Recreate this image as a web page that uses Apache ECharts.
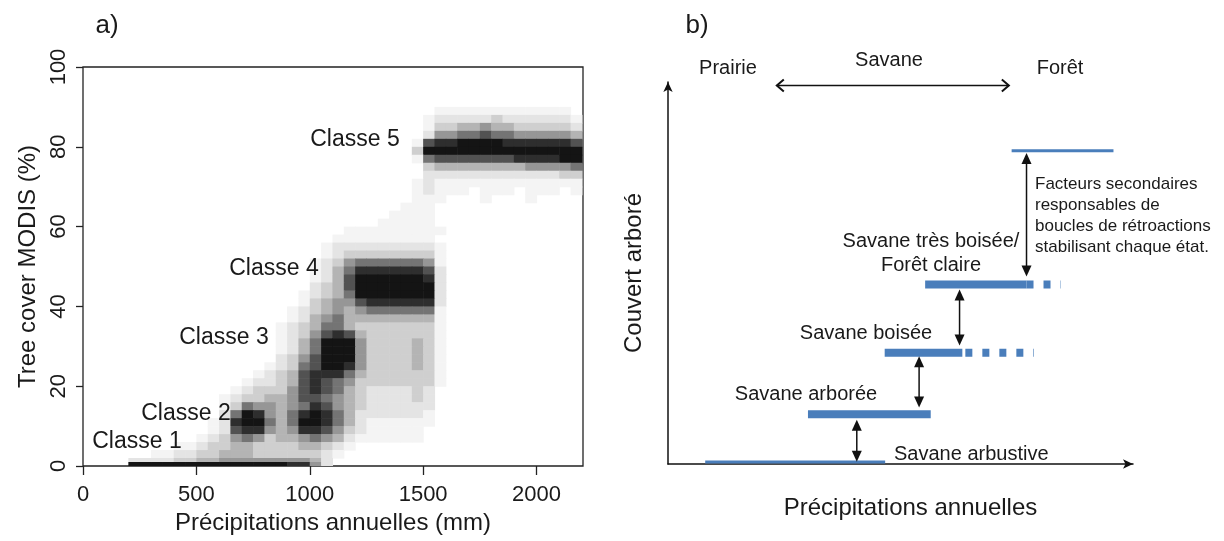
<!DOCTYPE html>
<html><head><meta charset="utf-8">
<script src="https://cdn.jsdelivr.net/npm/echarts@6/dist/echarts.min.js"></script>
<style>html,body{margin:0;padding:0;background:#fff}#c{width:1224px;height:541px}</style>
</head><body><div id="c"></div>
<script>
// ---------- Panel a : density of MODIS tree cover vs annual precipitation ----------
const xTickValues = [0, 500, 1000, 1500, 2000];
const precipBinEdges = [0,50,100,150,200,250,300,350,400,450,500,550,600,650,700,750,800,850,900,950,1000,1050,1100,1150,1200,1250,1300,1350,1400,1450,1500,1550,1600,1650,1700,1750,1800,1850,1900,1950,2000,2050,2100,2150,2200];
// tree cover bin edges, from top (100 %) down to 0 %
const coverBinEdges = [100,98,96,94,92,90,88,86,84,82,80,78,76,74,72,70,68,66,64,62,60,58,56,54,52,50,48,46,44,42,40,38,36,34,32,30,28,26,24,22,20,18,16,14,12,10,8,6,4,2,1,0];
// darkness 0 (white) .. 9 (black), one row per cover bin (top to bottom), one char per precipitation bin
const densityRows = [
"0000000000 0000000000 0000000000 0000000000 0000",
"0000000000 0000000000 0000000000 0000000000 0000",
"0000000000 0000000000 0000000000 0000000000 0000",
"0000000000 0000000000 0000000000 0000000000 0000",
"0000000000 0000000000 0000000000 0000000000 0000",
"0000000000 0000000000 0000000000 0111111111 1110",
"0000000000 0000000000 0000000000 1222223222 2221",
"0000000000 0000000000 0000000000 1334454433 3332",
"0000000000 0000000000 0000000000 2556676655 5554",
"0000000000 0000000000 0000000001 7889999888 8887",
"0000000000 0000000000 0000000003 9999999999 9999",
"0000000000 0000000000 0000000001 6777777788 8899",
"0000000000 0000000000 0000000000 3444444445 5556",
"0000000000 0000000000 0000000000 2222222222 2233",
"0000000000 0000000000 0000000001 2111111111 1111",
"0000000000 0000000000 0000000001 2111011101 1101",
"0000000000 0000000000 0000000001 1100010001 0000",
"0000000000 0000000000 0000000011 1000000000 0000",
"0000000000 0000000000 0000000111 1000000000 0000",
"0000000000 0000000000 0000001111 1000000000 0000",
"0000000000 0000000000 0001111111 1100000000 0000",
"0000000000 0000000000 0011111111 1000000000 0000",
"0000000000 0000000000 0122222222 2100000000 0000",
"0000000000 0000000000 0123333333 3100000000 0000",
"0000000000 0000000000 1235666666 5100000000 0000",
"0000000000 0000000000 1246888888 7200000000 0000",
"0000000000 0000000000 1247999999 8200000000 0000",
"0000000000 0000000000 2347999999 9200000000 0000",
"0000000000 0000000001 2346999999 9200000000 0000",
"0000000000 0000000001 3455788888 8200000000 0000",
"0000000000 0000000012 3454566666 6100000000 0000",
"0000000000 0000000012 4564444444 4100000000 0000",
"0000000000 0000000123 4664333333 3100000000 0000",
"0000000000 0000000123 5787433333 3100000000 0000",
"0000000000 0000000124 6999533334 3100000000 0000",
"0000000000 0000000124 6999533334 3100000000 0000",
"0000000000 0000000235 7999533334 3100000000 0000",
"0000000000 0000001236 7998533334 3100000000 0000",
"0000000000 0000012347 8886433333 3100000000 0000",
"0000000000 0000122347 8765333333 3100000000 0000",
"0000000000 0001233357 8764322223 2000000000 0000",
"0000000000 0012334457 7654322223 2000000000 0000",
"0000000000 0013655456 8754322222 2000000000 0000",
"0000000000 0026985468 9864222222 1000000000 0000",
"0000000000 0128996469 9864211111 1000000000 0000",
"0000000000 0127885458 8753211111 0000000000 0000",
"0000000000 1235653445 6542111111 0000000000 0000",
"0000000011 2334433334 4321000000 0000000000 0000",
"0000001122 3344433333 3210000000 0000000000 0000",
"0000222233 4455555555 4200000000 0000000000 0000",
"0000999999 9999999988 5200000000 0000000000 0000"
];
const classLabels = ['Classe 1', 'Classe 2', 'Classe 3', 'Classe 4', 'Classe 5'];

// ---------- Panel b : schematic (abstract units 0..100 on both axes) ----------
const stateNames = ['Savane arbustive', 'Savane arborée', 'Savane boisée', 'Savane très boisée/\nForêt claire', 'Forêt'];
const stateStart = [8, 30.1, 46.6, 55.3, 73.9];
const stateEnd = [46.7, 56.5, 63.3, 77.1, 95.8];
const stateLevel = [0.5, 13, 29.1, 47, 82];
const stateDashEnd = [null, null, 78.7, 84.5, null];
const transitionX = [40.6, 54.0, 62.7, 77.1];
const transitionFrom = [0.6, 14.8, 31.0, 49.1];
const transitionTo = [11.6, 28.2, 45.7, 81.4];
const savaneArrow = [23.4, 73.3, 99.1];
const zoneLabels = ['Prairie', 'Savane', 'Forêt'];
const feedbackText = ['Facteurs secondaires', 'responsables de', 'boucles de rétroactions', 'stabilisant chaque état.'];

// ---------- build ----------
const grays = ['#ffffff','#f4f4f4','#e4e4e4','#cfcfcf','#b4b4b4','#969696','#747474','#525252','#2e2e2e','#141414'];
const densityData = [];
densityRows.forEach((row, r) => {
  const s = row.replace(/ /g, '');
  for (let c = 0; c < s.length; c++) {
    const v = +s[c];
    if (v > 0) densityData.push([precipBinEdges[c], precipBinEdges[c + 1], coverBinEdges[r + 1], coverBinEdges[r], v]);
  }
});

const FONT = 'Liberation Sans, Arial, sans-serif';
const BLUE = '#4a7ebb';
const stateWidths = [3, 8, 8, 8, 3];
const dashOffsets = [0, 7, 14, 0, 0];

function txt(x, y, text, size, align, extra) {
  return {type: 'text', x: x, y: y, z: 100, zlevel: 0,
          style: Object.assign({text: text, font: size + 'px ' + FONT, fill: '#1a1a1a', align: align || 'center', verticalAlign: 'middle'}, extra || {})};
}

const chart = echarts.init(document.getElementById('c'), null, {renderer: 'canvas'});
const option = {
  backgroundColor: '#fff',
  animation: false,
  grid: [
    {left: 83, top: 67, width: 500, height: 399, show: true, borderColor: '#222', borderWidth: 1.3, backgroundColor: 'transparent'},
    {left: 668, top: 82, width: 465, height: 382, show: false}
  ],
  xAxis: [
    {gridIndex: 0, type: 'value', min: 0, max: 2205,
     name: 'Précipitations annuelles (mm)', nameLocation: 'middle', nameGap: 44,
     nameTextStyle: {fontFamily: FONT, fontSize: 24, color: '#1a1a1a'},
     axisLine: {show: false}, splitLine: {show: false},
     axisTick: {show: true, length: 9, customValues: xTickValues, lineStyle: {color: '#222', width: 1.3}},
     axisLabel: {customValues: xTickValues, formatter: v => String(v), margin: 18, fontFamily: FONT, fontSize: 22, color: '#1a1a1a'}},
    {gridIndex: 1, type: 'value', min: 0, max: 100,
     name: 'Précipitations annuelles', nameLocation: 'middle', nameGap: 32,
     nameTextStyle: {fontFamily: FONT, fontSize: 24, color: '#1a1a1a', padding: [0, 0, 0, 20]},
     axisLine: {show: true, symbol: ['none', 'arrow'], symbolSize: [7, 10], lineStyle: {color: '#111', width: 1.5}},
     axisTick: {show: false}, axisLabel: {show: false}, splitLine: {show: false}}
  ],
  yAxis: [
    {gridIndex: 0, type: 'value', min: 0, max: 100, interval: 20,
     name: 'Tree cover MODIS (%)', nameLocation: 'middle', nameGap: 43,
     nameTextStyle: {fontFamily: FONT, fontSize: 24, color: '#1a1a1a'},
     axisLine: {show: false}, splitLine: {show: false},
     axisTick: {show: true, length: 7, lineStyle: {color: '#222', width: 1.3}},
     axisLabel: {rotate: 90, margin: 13, formatter: v => String(v), fontFamily: FONT, fontSize: 22, color: '#1a1a1a'}},
    {gridIndex: 1, type: 'value', min: 0, max: 100,
     name: 'Couvert arboré', nameLocation: 'middle', nameGap: 22,
     nameTextStyle: {fontFamily: FONT, fontSize: 24, color: '#1a1a1a'},
     axisLine: {show: true, symbol: ['none', 'arrow'], symbolSize: [7, 10], lineStyle: {color: '#111', width: 1.5}},
     axisTick: {show: false}, axisLabel: {show: false}, splitLine: {show: false}}
  ],
  series: [
    {type: 'custom', xAxisIndex: 0, yAxisIndex: 0, clip: true, silent: true, z: 1,
     encode: {x: [0, 1], y: [2, 3]}, data: densityData,
     renderItem: function (params, api) {
       const p0 = api.coord([api.value(0), api.value(3)]);
       const p1 = api.coord([api.value(1), api.value(2)]);
       return {type: 'rect', shape: {x: p0[0], y: p0[1], width: p1[0] - p0[0] + 0.6, height: p1[1] - p0[1] + 0.6},
               style: {fill: grays[api.value(4)]}};
     }},
    {type: 'custom', xAxisIndex: 1, yAxisIndex: 1, silent: true, z: 5,
     data: stateNames.map((n, i) => [stateStart[i], stateEnd[i], stateLevel[i], stateDashEnd[i] == null ? -1 : stateDashEnd[i], i]),
     renderItem: function (params, api) {
       const i = api.value(4);
       const a = api.coord([api.value(0), api.value(2)]);
       const b = api.coord([api.value(1), api.value(2)]);
       const children = [{type: 'line', shape: {x1: a[0], y1: a[1], x2: b[0], y2: b[1]},
                          style: {stroke: BLUE, lineWidth: stateWidths[i]}}];
       if (api.value(3) > 0) {
         const d = api.coord([api.value(3), api.value(2)]);
         children.push({type: 'line', shape: {x1: b[0], y1: b[1], x2: d[0], y2: d[1]},
                        style: {stroke: BLUE, lineWidth: stateWidths[i], lineDash: [7, 10], lineDashOffset: dashOffsets[i]}});
       }
       return {type: 'group', children: children};
     }},
    {type: 'custom', xAxisIndex: 1, yAxisIndex: 1, silent: true, z: 6,
     data: transitionX.map((x, i) => [x, transitionFrom[i], transitionTo[i]]),
     renderItem: function (params, api) {
       const lo = api.coord([api.value(0), api.value(1)]);
       const hi = api.coord([api.value(0), api.value(2)]);
       const x = lo[0], hl = 11, hw = 5;
       return {type: 'group', children: [
         {type: 'line', shape: {x1: x, y1: lo[1] - 4, x2: x, y2: hi[1] + 4}, style: {stroke: '#111', lineWidth: 1.5}},
         {type: 'polygon', shape: {points: [[x, hi[1]], [x - hw, hi[1] + hl], [x + hw, hi[1] + hl]]}, style: {fill: '#111'}},
         {type: 'polygon', shape: {points: [[x, lo[1]], [x - hw, lo[1] - hl], [x + hw, lo[1] - hl]]}, style: {fill: '#111'}}
       ]};
     }},
    {type: 'custom', xAxisIndex: 1, yAxisIndex: 1, silent: true, z: 6,
     data: [savaneArrow],
     renderItem: function (params, api) {
       const l = api.coord([api.value(0), api.value(2)]);
       const r = api.coord([api.value(1), api.value(2)]);
       const y = l[1];
       return {type: 'group', children: [
         {type: 'line', shape: {x1: l[0], y1: y, x2: r[0], y2: y}, style: {stroke: '#111', lineWidth: 1.5}},
         {type: 'polyline', shape: {points: [[l[0] + 7, y - 6], [l[0], y], [l[0] + 7, y + 6]]}, style: {stroke: '#111', lineWidth: 2, fill: null}},
         {type: 'polyline', shape: {points: [[r[0] - 7, y - 6], [r[0], y], [r[0] - 7, y + 6]]}, style: {stroke: '#111', lineWidth: 2, fill: null}}
       ]};
     }}
  ],
  graphic: {
    elements: [
      txt(107, 26, 'a)', 26),
      txt(697, 26, 'b)', 26),
      txt(137, 442, classLabels[0], 23),
      txt(186, 414, classLabels[1], 23),
      txt(224, 338, classLabels[2], 23),
      txt(274, 269, classLabels[3], 23),
      txt(355, 140, classLabels[4], 23),
      txt(728, 68, zoneLabels[0], 20),
      txt(889, 60, zoneLabels[1], 20),
      txt(1060, 68, zoneLabels[2], 20),
      txt(931, 253, stateNames[3], 20, 'center', {lineHeight: 24}),
      txt(866, 333, stateNames[2], 20),
      txt(806, 394, stateNames[1], 20),
      txt(894, 454, stateNames[0], 20, 'left'),
      txt(1035, 215.5, feedbackText.join('\n'), 17, 'left', {lineHeight: 21})
    ]
  }
};
chart.setOption(option);
</script>
</body></html>
